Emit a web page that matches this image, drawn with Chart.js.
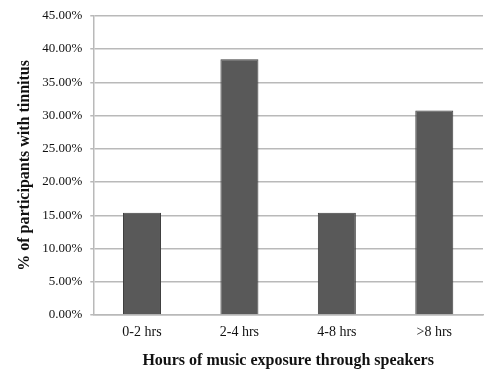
<!DOCTYPE html>
<html>
<head>
<meta charset="utf-8">
<script src="https://cdn.jsdelivr.net/npm/chart.js@4"></script>
<style>
  html, body { margin: 0; padding: 0; background: #fff; }
  #wrap { width: 500px; height: 379px; }
</style>
</head>
<body>
<div id="wrap"><canvas id="chart" width="500" height="379"></canvas></div>
<script>
// Data
const categories = ['0-2 hrs', '2-4 hrs', '4-8 hrs', '>8 hrs'];
const tinnitusPct = [15.38, 38.46, 15.38, 30.77];
const yTicks = [0, 5, 10, 15, 20, 25, 30, 35, 40, 45];

const serif = '"Liberation Serif", "Times New Roman", serif';
const gridColor = '#b9b9b9';

new Chart(document.getElementById('chart'), {
    type: 'bar',
    data: {
        labels: categories,
        datasets: [{
            data: tinnitusPct,
            backgroundColor: '#595959',
            borderColor: '#3f3f3f',
            borderWidth: 1,
            categoryPercentage: 1,
            barPercentage: 0.39
        }]
    },
    options: {
        responsive: false,
        animation: false,
        layout: { padding: { left: 11, right: 17, top: 3, bottom: 5 } },
        plugins: {
            legend: { display: false },
            tooltip: { enabled: false }
        },
        scales: {
            x: {
                grid: { display: false, drawTicks: false },
                border: { display: true, color: gridColor, width: 1.5 },
                ticks: {
                    color: '#111',
                    padding: 9,
                    maxRotation: 0,
                    font: { family: serif, size: 14 }
                },
                title: {
                    display: true,
                    text: 'Hours of music exposure through speakers',
                    color: '#111',
                    padding: { top: 1, bottom: 4 },
                    font: { family: serif, size: 16, weight: 'bold' }
                }
            },
            y: {
                min: 0,
                max: 45,
                afterBuildTicks: (axis) => {
                    axis.ticks = yTicks.map(v => ({ value: v }));
                },
                grid: {
                    color: gridColor,
                    lineWidth: 1.5,
                    tickLength: 3
                },
                border: { display: true, color: gridColor, width: 1.5 },
                ticks: {
                    color: '#111',
                    padding: 8,
                    font: { family: serif, size: 13 },
                    callback: (v) => v.toFixed(2) + '%'
                },
                title: {
                    display: true,
                    text: '% of participants with tinnitus',
                    color: '#111',
                    padding: { top: 4, bottom: 0 },
                    font: { family: serif, size: 16, weight: 'bold' }
                }
            }
        }
    }
});
</script>
</body>
</html>
